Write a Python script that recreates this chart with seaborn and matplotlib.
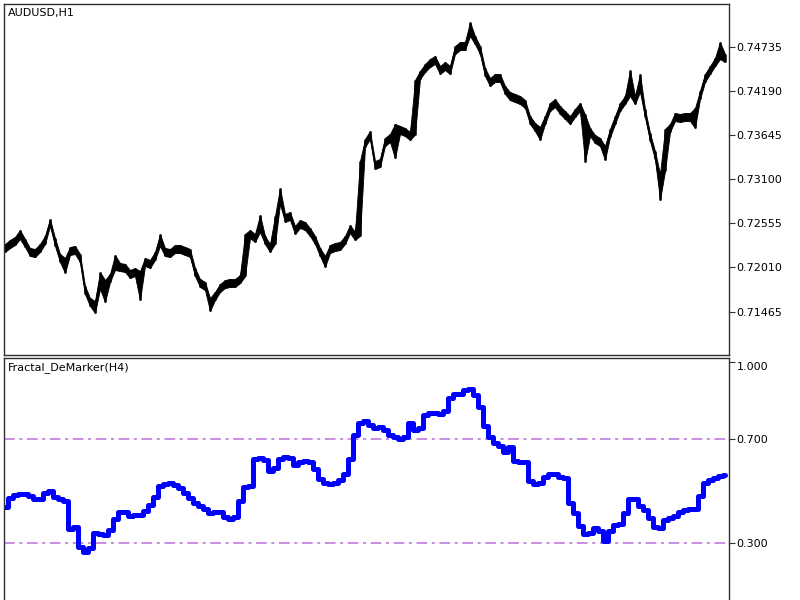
import matplotlib
matplotlib.use("Agg")
import matplotlib.pyplot as plt
import seaborn as sns
import numpy as np
import pandas as pd

# ---------------- data ----------------
price_high = [
    0.72301, 0.72350, 0.72387, 0.72473, 0.72362, 0.72251, 0.72239, 0.72301, 0.72399, 0.72609,
    0.72375, 0.72177, 0.72128, 0.72264, 0.72276, 0.72177, 0.71782, 0.71634, 0.71597, 0.71954,
    0.71856, 0.71930, 0.72164, 0.72066, 0.72054, 0.71980, 0.72004, 0.71967, 0.72128, 0.72103,
    0.72202, 0.72423, 0.72251, 0.72239, 0.72288, 0.72288, 0.72264, 0.72239, 0.72004, 0.71869,
    0.71832, 0.71634, 0.71708, 0.71807, 0.71856, 0.71869, 0.71869, 0.71917, 0.72424, 0.72473,
    0.72424, 0.72658, 0.72399, 0.72301, 0.72646, 0.72991, 0.72671, 0.72696, 0.72523, 0.72597,
    0.72572, 0.72498, 0.72399, 0.72251, 0.72153, 0.72288, 0.72313, 0.72325, 0.72399, 0.72535,
    0.72449, 0.73325, 0.73596, 0.73695, 0.73325, 0.73350, 0.73609, 0.73658, 0.73782, 0.73757,
    0.73732, 0.73683, 0.74324, 0.74436, 0.74522, 0.74584, 0.74621, 0.74497, 0.74547, 0.74497,
    0.74744, 0.74793, 0.74793, 0.75039, 0.74867, 0.74744, 0.74473, 0.74349, 0.74399, 0.74399,
    0.74250, 0.74176, 0.74152, 0.74127, 0.74078, 0.73880, 0.73794, 0.73745, 0.73880, 0.74041,
    0.74090, 0.74004, 0.73942, 0.73880, 0.73967, 0.74041, 0.73900, 0.73732, 0.73646, 0.73609,
    0.73510, 0.73720, 0.73880, 0.74041, 0.74127, 0.74447, 0.74127, 0.74398, 0.73967, 0.73670,
    0.73448, 0.73165, 0.73720, 0.73782, 0.73917, 0.73905, 0.73917, 0.73917, 0.73979, 0.74189,
    0.74399, 0.74497, 0.74596, 0.74793, 0.74645,
]
price_low = [
    0.72201, 0.72250, 0.72287, 0.72361, 0.72262, 0.72151, 0.72139, 0.72201, 0.72299, 0.72522,
    0.72275, 0.72077, 0.71942, 0.72164, 0.72176, 0.72077, 0.71682, 0.71534, 0.71449, 0.71744,
    0.71584, 0.71830, 0.71979, 0.71966, 0.71954, 0.71880, 0.71904, 0.71609, 0.72028, 0.72003,
    0.72102, 0.72275, 0.72151, 0.72139, 0.72188, 0.72188, 0.72164, 0.72139, 0.71904, 0.71769,
    0.71732, 0.71473, 0.71608, 0.71707, 0.71756, 0.71769, 0.71769, 0.71817, 0.71900, 0.72373,
    0.72324, 0.72447, 0.72299, 0.72201, 0.72300, 0.72793, 0.72571, 0.72596, 0.72423, 0.72497,
    0.72472, 0.72398, 0.72299, 0.72151, 0.72016, 0.72188, 0.72213, 0.72225, 0.72299, 0.72435,
    0.72349, 0.72400, 0.73496, 0.73595, 0.73225, 0.73250, 0.73509, 0.73558, 0.73361, 0.73657,
    0.73632, 0.73583, 0.73650, 0.74336, 0.74422, 0.74484, 0.74521, 0.74397, 0.74447, 0.74397,
    0.74644, 0.74693, 0.74693, 0.74866, 0.74767, 0.74644, 0.74373, 0.74249, 0.74299, 0.74299,
    0.74150, 0.74076, 0.74052, 0.74027, 0.73978, 0.73780, 0.73694, 0.73583, 0.73780, 0.73941,
    0.73990, 0.73904, 0.73842, 0.73780, 0.73867, 0.73941, 0.73312, 0.73632, 0.73546, 0.73509,
    0.73337, 0.73620, 0.73780, 0.73941, 0.74027, 0.74126, 0.74027, 0.74175, 0.73867, 0.73570,
    0.73348, 0.72843, 0.73200, 0.73682, 0.73817, 0.73805, 0.73817, 0.73817, 0.73732, 0.74089,
    0.74299, 0.74397, 0.74496, 0.74582, 0.74545,
]
demarker = [
    0.439, 0.474, 0.485, 0.489, 0.489, 0.481, 0.470, 0.470, 0.493, 0.501,
    0.477, 0.470, 0.462, 0.353, 0.361, 0.283, 0.264, 0.279, 0.338, 0.334,
    0.330, 0.349, 0.392, 0.419, 0.419, 0.404, 0.408, 0.408, 0.423, 0.446,
    0.477, 0.520, 0.528, 0.532, 0.524, 0.512, 0.493, 0.474, 0.454, 0.443,
    0.431, 0.415, 0.419, 0.419, 0.400, 0.392, 0.400, 0.462, 0.516, 0.520,
    0.625, 0.629, 0.621, 0.578, 0.590, 0.625, 0.633, 0.629, 0.602, 0.610,
    0.617, 0.610, 0.586, 0.547, 0.532, 0.528, 0.532, 0.543, 0.567, 0.625,
    0.718, 0.761, 0.769, 0.757, 0.742, 0.749, 0.734, 0.718, 0.707, 0.699,
    0.710, 0.761, 0.734, 0.745, 0.792, 0.800, 0.800, 0.796, 0.811, 0.858,
    0.877, 0.877, 0.889, 0.893, 0.870, 0.823, 0.753, 0.707, 0.687, 0.672,
    0.652, 0.668, 0.617, 0.613, 0.613, 0.540, 0.528, 0.532, 0.555, 0.567,
    0.567, 0.555, 0.551, 0.454, 0.415, 0.365, 0.334, 0.338, 0.357, 0.345,
    0.307, 0.345, 0.369, 0.373, 0.415, 0.470, 0.470, 0.443, 0.427, 0.396,
    0.361, 0.357, 0.388, 0.396, 0.404, 0.419, 0.427, 0.431, 0.431, 0.481,
    0.532, 0.543, 0.551, 0.559, 0.563,
]
price_ticks = [0.71465, 0.72010, 0.72555, 0.73100, 0.73645, 0.74190, 0.74735]
ind_ticks = [0.300, 0.700, 1.000]
levels = [0.3, 0.7]
price_title = "AUDUSD,H1"
ind_title = "Fractal_DeMarker(H4)"

n = min(len(price_high), len(price_low), len(demarker))
bars = np.arange(n)
df = pd.DataFrame({"bar": bars, "high": price_high[:n], "low": price_low[:n],
                   "demarker": demarker[:n]})
df["mid"] = (df["high"] + df["low"]) / 2

# ---------------- figure ----------------
sns.set_style("white")
plt.rcParams["font.family"] = ["DejaVu Sans"]
fig = plt.figure(figsize=(8, 6), dpi=100)

W, H = 800, 600
def rect(l, t, r, b):
    return [l / W, 1 - b / H, (r - l) / W, (b - t) / H]

ax1 = fig.add_axes(rect(4, 4, 729, 355))
ax2 = fig.add_axes(rect(4, 358.5, 729, 603))

spine_col = "#303030"
for ax in (ax1, ax2):
    for s in ax.spines.values():
        s.set_color(spine_col)
        s.set_linewidth(1.0)
    ax.yaxis.tick_right()
    ax.tick_params(axis="y", which="both", right=True, left=False, length=4,
                   width=0.8, color=spine_col, labelsize=8, pad=1.5,
                   labelcolor="#000000")
    ax.set_xticks([])
    ax.set_xlim(-0.2, n - 0.2)

# price panel: high-low range band with bar sticks
ax1.fill_between(df["bar"], df["low"], df["high"], color="black", linewidth=0.6)
ax1.vlines(df["bar"], df["low"], df["high"], color="black", linewidth=1.8)
sns.lineplot(data=df, x="bar", y="mid", ax=ax1, color="black", linewidth=1.0)
ax1.set_ylim(0.70930, 0.75262)
ax1.set_yticks(price_ticks)
ax1.set_yticklabels([f"{v:.5f}" for v in price_ticks])
ax1.set_xlabel("")
ax1.set_ylabel("")
ax1.set_xticks([])
ax1.text(0.006, 0.988, price_title, transform=ax1.transAxes, ha="left", va="top",
         fontsize=8, color="black")

# indicator panel
for lv in levels:
    ax2.axhline(lv, color="#BC6FDA", linewidth=1.1, linestyle=(0, (7, 3, 2, 3)))
sns.lineplot(data=df, x="bar", y="demarker", ax=ax2, color="#0000FF",
             linewidth=3.6, drawstyle="steps-mid")
ax2.set_ylim(0.066, 1.0125)
ax2.set_yticks(ind_ticks)
ax2.set_yticklabels([f"{v:.3f}" for v in ind_ticks])
lbls = ax2.get_yticklabels()
lbls[-1].set_va("top")
ax2.set_xlabel("")
ax2.set_ylabel("")
ax2.set_xticks([])
ax2.text(0.006, 0.985, ind_title, transform=ax2.transAxes, ha="left", va="top",
         fontsize=8, color="black")

fig.savefig("out.png", dpi=100)
